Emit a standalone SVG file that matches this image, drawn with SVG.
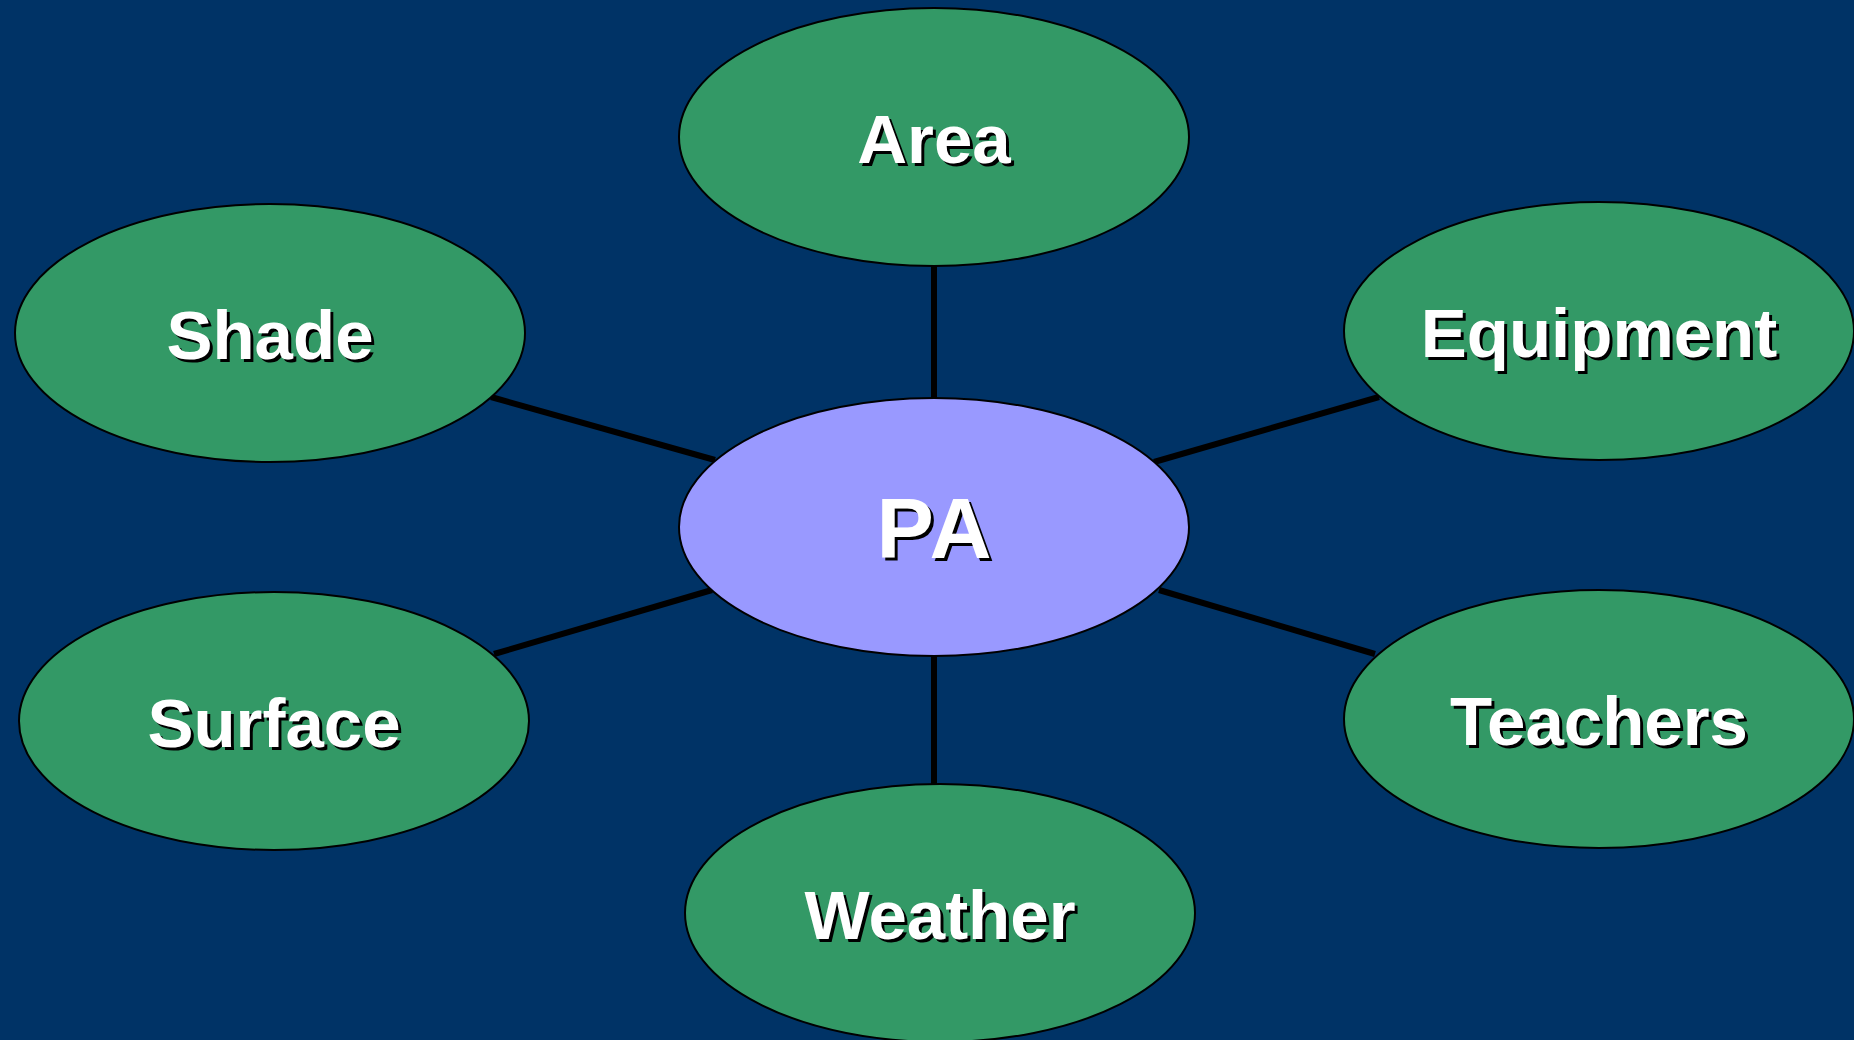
<svg xmlns="http://www.w3.org/2000/svg" width="1854" height="1040" viewBox="0 0 1854 1040">
  <style>
    .bg { fill: #003366; }
    .link { stroke: #000000; stroke-width: 6; fill: none; }
    .topic { fill: #339966; stroke: #000000; stroke-width: 2; }
    .hub { fill: #9999FF; stroke: #000000; stroke-width: 2; }
    .lbl { font-family: "Liberation Sans", Arial, sans-serif; font-weight: bold; font-size: 69px; text-anchor: middle; }
    .lbl-hub { font-size: 86px; letter-spacing: 2px; }
    .shadow { fill: #000000; }
    .face { fill: #FFFFFF; }
  </style>

  <rect class="bg" x="0" y="0" width="1854" height="1040"/>

  <!-- spokes from the hub to each topic -->
  <g id="connectors">
    <line class="link" x1="934" y1="266" x2="934" y2="398"/>
    <line class="link" x1="934" y1="656" x2="934" y2="784"/>
    <line class="link" x1="491" y1="397" x2="715" y2="460"/>
    <line class="link" x1="1379" y1="397" x2="1154" y2="462"/>
    <line class="link" x1="494" y1="654" x2="712" y2="590"/>
    <line class="link" x1="1375" y1="654" x2="1159" y2="590"/>
  </g>

  <g id="node-area">
    <ellipse class="topic" cx="934" cy="137" rx="255" ry="129"/>
    <text class="lbl shadow" x="937" y="166">Area</text>
    <text class="lbl face" x="934" y="163">Area</text>
  </g>

  <g id="node-shade">
    <ellipse class="topic" cx="270" cy="333" rx="255" ry="129"/>
    <text class="lbl shadow" x="273" y="362">Shade</text>
    <text class="lbl face" x="270" y="359">Shade</text>
  </g>

  <g id="node-equipment">
    <ellipse class="topic" cx="1599" cy="331" rx="255" ry="129"/>
    <text class="lbl shadow" x="1602" y="360">Equipment</text>
    <text class="lbl face" x="1599" y="357">Equipment</text>
  </g>

  <g id="node-pa">
    <ellipse class="hub" cx="934" cy="527" rx="255" ry="129"/>
    <text class="lbl lbl-hub shadow" x="938" y="561">PA</text>
    <text class="lbl lbl-hub face" x="935" y="558">PA</text>
  </g>

  <g id="node-surface">
    <ellipse class="topic" cx="274" cy="721" rx="255" ry="129"/>
    <text class="lbl shadow" x="277" y="750">Surface</text>
    <text class="lbl face" x="274" y="747">Surface</text>
  </g>

  <g id="node-teachers">
    <ellipse class="topic" cx="1599" cy="719" rx="255" ry="129"/>
    <text class="lbl shadow" x="1602" y="748">Teachers</text>
    <text class="lbl face" x="1599" y="745">Teachers</text>
  </g>

  <g id="node-weather">
    <ellipse class="topic" cx="940" cy="913" rx="255" ry="129"/>
    <text class="lbl shadow" x="943" y="942">Weather</text>
    <text class="lbl face" x="940" y="939">Weather</text>
  </g>
</svg>
